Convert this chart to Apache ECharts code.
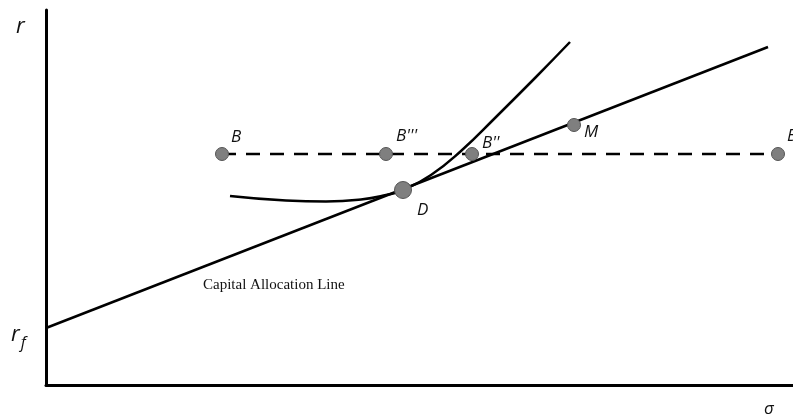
<!DOCTYPE html>
<html>
<head>
    <meta charset="UTF-8">
    <title>Capital Allocation Line</title>
    <script type="text/javascript" src="https://cdn.jsdelivr.net/npm/echarts@6/dist/echarts.min.js"></script>
</head>
<body style="margin: 0;padding: 0;background:#fff;">
    <div id="container" style="width:793px; height:416px;"></div>
    <script>
        // 数据 (x = sigma, y = r), 单位按图中像素估计
        var calLine = [[0, 57], [722, 338]];
        var frontier = [[184, 189], [240, 184.5], [280, 183.5], [315, 185.5], [340, 190], [357, 195],
            [385, 210], [415, 234], [450, 268], [490, 308], [524, 343]];
        var dashed = [[176, 231], [732, 231]];
        var pointNames = ['B', "B'''", "B''", 'M', 'B'];
        var pointValues = [[176, 231], [340, 231], [426, 231], [528, 260], [732, 231]];
        var labelOffsets = [[-1, -17], [0, -18], [0, -11], [0, 7], [-1, -18]];
        var tangentPoint = [357, 195];

        var chart = echarts.init(document.getElementById('container'), null, { renderer: 'canvas' });

        var pts = pointValues.map(function (v, i) {
            return {
                value: v,
                label: { show: true, formatter: pointNames[i], offset: labelOffsets[i] }
            };
        });

        var labelStyle = {
            position: 'right', distance: 3, color: '#111', fontSize: 17,
            fontStyle: 'italic', fontFamily: 'Open Sans'
        };

        var option = {
            animation: false,
            grid: { left: 46, right: 0, top: 10, bottom: 31 },
            xAxis: {
                type: 'value', min: 0, max: 747,
                axisLine: { show: true, onZero: false, lineStyle: { color: '#000', width: 3 } },
                axisTick: { show: false }, axisLabel: { show: false }, splitLine: { show: false }
            },
            yAxis: {
                type: 'value', min: 0, max: 375,
                axisLine: { show: true, onZero: false, lineStyle: { color: '#000', width: 3 } },
                axisTick: { show: false }, axisLabel: { show: false }, splitLine: { show: false }
            },
            graphic: [
                { type: 'text', left: 16, top: 16, style: { text: 'r', font: 'italic 22px "Open Sans"', fill: '#111' } },
                {
                    type: 'text', left: 11, top: 324, style: {
                        text: '{a|r}{b|f}', fill: '#111',
                        rich: {
                            a: { font: 'italic 22px "Open Sans"', fill: '#111' },
                            b: { font: 'italic 16px "Open Sans"', fill: '#111', padding: [16, 0, 0, 1] }
                        }
                    }
                },
                { type: 'text', left: 764, top: 401, style: { text: 'σ', font: 'italic 17px "Open Sans"', fill: '#111' } },
                { type: 'text', left: 203, top: 278, style: { text: 'Capital Allocation Line', font: '15px "Liberation Serif"', fill: '#111' } }
            ],
            series: [
                {
                    type: 'line', data: calLine, symbol: 'none', z: 2,
                    lineStyle: { color: '#000', width: 2.5 }
                },
                {
                    type: 'line', data: frontier, symbol: 'none', smooth: 0.5, z: 2,
                    lineStyle: { color: '#000', width: 2.5 }
                },
                {
                    type: 'line', data: dashed, symbol: 'none', z: 1,
                    lineStyle: { color: '#000', width: 2.5, type: [14, 10] }
                },
                {
                    type: 'scatter', data: pts, symbolSize: 13, z: 5,
                    itemStyle: { color: '#7f7f7f', borderColor: '#555', borderWidth: 1, opacity: 1 },
                    label: labelStyle
                },
                {
                    type: 'scatter', data: [{ value: tangentPoint, label: { show: true, formatter: 'D', offset: [2, 20] } }],
                    symbolSize: 17, z: 5,
                    itemStyle: { color: '#7f7f7f', borderColor: '#555', borderWidth: 1, opacity: 1 },
                    label: labelStyle
                }
            ]
        };
        chart.setOption(option);
    </script>
</body>
</html>
